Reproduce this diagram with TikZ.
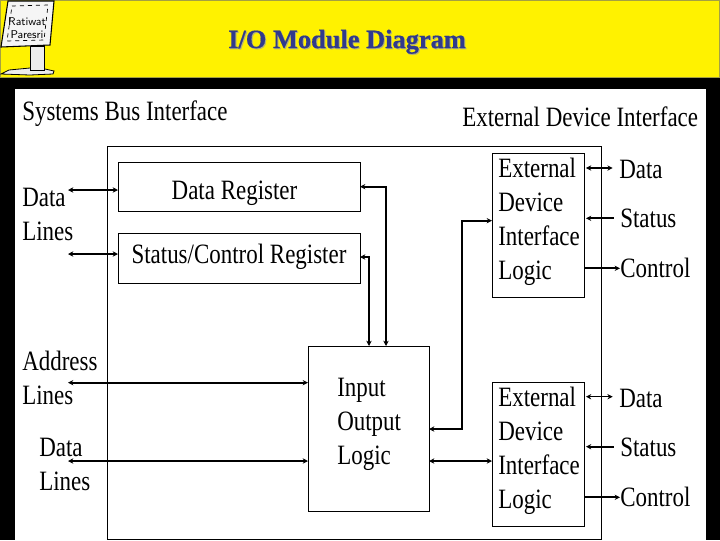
\documentclass[tikz,border=0pt]{standalone}
\usepackage{fontspec}
\setmainfont{Liberation Serif}
\newfontfamily\condfont[FakeStretch=0.82]{Liberation Serif}
\newfontfamily\titlefont[BoldFeatures={FakeBold=0.5}]{Liberation Serif}
\usetikzlibrary{arrows.meta}

\definecolor{titleblue}{RGB}{48,58,140}
\definecolor{titleshadow}{RGB}{178,178,120}

\tikzset{
    lbl/.style={anchor=base west, inner sep=0pt, font=\condfont\fontsize{21}{25.3}\selectfont, align=left},
    lblc/.style={lbl, anchor=base},
    box/.style={draw, line width=0.7pt, inner sep=0pt, anchor=north west},
    link/.style={line width=1.1pt},
    boldlink/.style={line width=1.7pt},
    titletext/.style={font=\titlefont\fontsize{19.8}{24}\bfseries\selectfont, inner sep=0pt, anchor=base},
}

\begin{document}
\begin{tikzpicture}[>={Stealth[length=4pt, width=4pt]}, x=0.75pt, y=-0.75pt]

    \def\px{0.75pt}

    % ── Page ─────────────────────────────────────────────────────────────────
    \useasboundingbox (0,0) rectangle (720,540);
    \fill[black] (0,0) rectangle (720,540);
    \filldraw[fill=yellow, draw=yellow!60!black, line width=0.6pt] (0.5,0.5) rectangle (719.5,77);
    \fill[white] (15,89) rectangle (706,540);

    % ── Sign in the corner ───────────────────────────────────────────────────
    \filldraw[fill=gray!15, draw=black, line width=0.6pt] (1,74) -- (9,70) -- (30,68) -- (45,69) -- (54,71) -- (53,74) -- (30,75) -- cycle;
    \filldraw[fill=gray!15, draw=black, line width=0.7pt] (30,46) rectangle (44,70);
    \filldraw[fill=gray!8, draw=black, line width=0.8pt] (8,1) -- (54,1) -- (50,45) -- (1,47) -- cycle;
    \draw[line width=0.5pt, dashed] (12,6) -- (48,5) -- (44,40) -- (7,41) -- cycle;
    \node[inner sep=0pt, font=\fontsize{8.5}{9.4}\sffamily\selectfont, align=center] (sign) at (27,28) {Ratiwat\\Paresri};

    % ── Title ────────────────────────────────────────────────────────────────
    \node[titletext, titleshadow] (titleback) at (348,49) {I/O Module Diagram};
    \node[titletext, titleblue] (title) at (347,48) {I/O Module Diagram};

    % ── Headings ─────────────────────────────────────────────────────────────
    \node[lbl] (busHead) at (22,120.5) {Systems Bus Interface};
    \node[lbl] (extHead) at (462,126.5) {External Device Interface};

    % ── Boxes ────────────────────────────────────────────────────────────────
    \node[box, minimum width=494*\px, minimum height=393*\px] (module) at (107,146) {};
    \node[box, minimum width=242*\px, minimum height=49.5*\px] (dataReg) at (118,161.5) {};
    \node[box, minimum width=242*\px, minimum height=49.5*\px] (statusReg) at (118,233) {};
    \node[box, minimum width=121*\px, minimum height=165*\px] (ioLogic) at (308,346) {};
    \foreach \name/\top in {extA/153.3, extB/382.3}
        \node[box, minimum width=92*\px, minimum height=144*\px] (\name) at (492,\top) {};

    % ── Box labels ───────────────────────────────────────────────────────────
    \node[lblc] (dataRegText) at (234.5,199) {Data Register};
    \node[lblc] (statusRegText) at (239,263) {Status/Control Register};
    \node[lbl] (ioText) at (337,464) {Input\\Output\\Logic};
    \node[lbl] (extAText) at (498,279) {External\\Device\\Interface\\Logic};
    \node[lbl] (extBText) at (498,508) {External\\Device\\Interface\\Logic};

    % ── Side labels ──────────────────────────────────────────────────────────
    \node[lbl] (dataLinesA) at (22,240) {Data\\Lines};
    \node[lbl] (addrLines) at (22,404) {Address\\Lines};
    \node[lbl] (dataLinesB) at (39,490) {Data\\Lines};
    \foreach \name/\base/\sname/\sbase/\cname/\cbase in {dataA/178/statusA/227/controlA/277.7, dataB/407/statusB/456/controlB/506.7} {
        \node[lbl] (\name) at (619,\base) {Data};
        \node[lbl] (\sname) at (620,\sbase) {Status};
        \node[lbl] (\cname) at (620,\cbase) {Control};
    }

    % ── Free ends and ports ──────────────────────────────────────────────────
    \coordinate (dataLineEnd) at (68,190);
    \coordinate (statusLineEnd) at (68,254);
    \coordinate (addrLineEnd) at (68,382.7);
    \coordinate (busLineEnd) at (68,461);

    % ── Bus side links ───────────────────────────────────────────────────────
    \draw[<->, link] (dataLineEnd) -- (dataLineEnd -| dataReg.west);
    \draw[<->, link] (statusLineEnd) -- (statusLineEnd -| statusReg.west);
    \draw[<->, boldlink] (addrLineEnd) -- (addrLineEnd -| ioLogic.west);
    \draw[<->, boldlink] (busLineEnd) -- (busLineEnd -| ioLogic.west);

    % ── Register links ───────────────────────────────────────────────────────
    \coordinate (dataRegPort) at (360,186.7);
    \coordinate (statusRegPort) at (360,257);
    \coordinate (dataRegDrop) at (386,346);
    \coordinate (statusRegDrop) at (369,346);
    \draw[<->, boldlink] (dataRegPort) -| (dataRegDrop);
    \draw[<->, link] (statusRegPort) -| (statusRegDrop);

    % ── Links to the device blocks ───────────────────────────────────────────
    \coordinate (ioPortA) at (429,429);
    \coordinate (ioPortB) at (429,461);
    \coordinate (extAPort) at (492,220.7);
    \coordinate (riser) at (461.7,220.7);
    \draw[<->, boldlink] (ioPortA) -| (riser) -- (extAPort);
    \draw[<->, boldlink] (ioPortB) -- (ioPortB -| extB.west);

    % ── Device side links ────────────────────────────────────────────────────
    \foreach \blk/\ya/\yb/\yc in {extA/168/218.3/268.3, extB/396.7/446.7/497.3} {
        \coordinate (\blk dataEnd) at (612.7,\ya);
        \coordinate (\blk statusEnd) at (614,\yb);
        \coordinate (\blk controlEnd) at (620,\yc);
        \draw[<->, link] (\blk dataEnd -| \blk.east) ++(1,0) -- (\blk dataEnd);
        \draw[<-, boldlink] (\blk statusEnd -| \blk.east) ++(1,0) -- (\blk statusEnd);
        \draw[->, boldlink] (\blk controlEnd -| \blk.east) -- (\blk controlEnd);
    }

\end{tikzpicture}
\end{document}
